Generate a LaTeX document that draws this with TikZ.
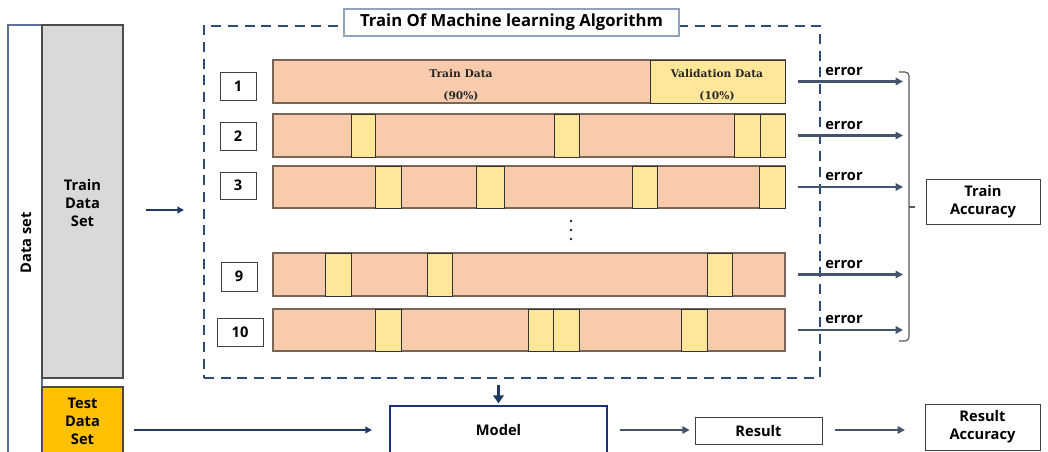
\documentclass[tikz,border=0pt]{standalone}
\usepackage{fontspec}
\setsansfont{Open Sans}
\newfontfamily\barfont{DejaVu Serif}
\usetikzlibrary{arrows.meta,fit}

\definecolor{peach}{HTML}{F8CBAD}
\definecolor{lemon}{HTML}{FFE699}
\definecolor{gold}{HTML}{FFC000}
\definecolor{slate}{HTML}{44546A}
\definecolor{navy}{HTML}{1F3864}
\definecolor{dashblue}{HTML}{2F4A78}
\definecolor{barline}{HTML}{7A6656}
\definecolor{panel}{HTML}{D9D9D9}
\definecolor{titleline}{HTML}{8FA3BF}
\definecolor{setline}{HTML}{5B7099}

\tikzset{
  lbl/.style={font=\sffamily\bfseries\fontsize{11}{13.5}\selectfont, align=center, text=black},
  area/.style={inner sep=0pt, outer sep=0pt, fit={#1}},
  barbox/.style={draw=barline, line width=0.8pt, fill=peach},
  seg/.style={draw=black!80, line width=0.7pt, fill=lemon},
  numbox/.style={draw=black!75, line width=0.7pt, fill=white},
  plainbox/.style={draw=black!75, line width=0.7pt, fill=white},
  inside/.style={label={[lbl]center:#1}},
  errarrow/.style={draw=slate, line width=1.7pt, -{Triangle[length=5.5pt,width=5.5pt]}},
  navyarrow/.style={draw=navy, line width=1.3pt, -{Triangle[length=5pt,width=5pt]}},
  errlbl/.style={lbl, above=0.5pt, midway},
  bartext/.style={font=\barfont\bfseries\fontsize{8}{9}\selectfont, text=black!85},
}

% one fold of the cross-validation: orange bar with yellow validation slices
\newcommand\foldbar[4]{%
  \node[barbox, area={(273,#2)(785,#3)}] (#1) {};
  \foreach \a/\b in {#4} { \draw[seg] (\a,#2) rectangle (\b,#3); }
}

\begin{document}
\begin{tikzpicture}[x=0.75pt, y=-0.75pt]
\useasboundingbox (0,0) rectangle (1048,452);

% data set column
\node[draw=setline, line width=0.8pt, area={(8,25)(42,470)}] (dataset) {};
\node[lbl, rotate=90] (datasettxt) at (26,243) {Data set};
\node[draw=black!70, line width=0.8pt, fill=panel, area={(42,25)(123,378)}] (trainbox) {};
\node[lbl] (traintxt) at (82.5,203) {Train\\Data\\Set};
\node[draw=black!70, line width=0.8pt, fill=gold, area={(42,387)(123,470)}] (testbox) {};
\node[lbl] (testtxt) at (82.5,421) {Test\\Data\\Set};

% training frame
\node[draw=dashblue, line width=1.6pt, dash pattern=on 7.5pt off 5pt, area={(204,26)(820,378)}] (cv) {};
\node[draw=titleline, line width=0.8pt, fill=white, area={(344,9)(679,36)},
      label={[lbl, font=\sffamily\bfseries\fontsize{12.5}{15}\selectfont]center:Train Of Machine learning Algorithm}] (title) {};

% folds
\foldbar{r1}{60}{103}{650/785}
\node[bartext] (td1) at (461,74) {Train Data};
\node[bartext] (td2) at (461,96) {(90\%)};
\node[bartext] (vd1) at (717,74) {Validation Data};
\node[bartext] (vd2) at (717,96) {(10\%)};
\foldbar{r2}{114}{157}{351/375, 554/579, 734/760, 760/785}
\foldbar{r3}{166}{208}{375/401, 476/504, 632/657, 759/785}
\foldbar{r9}{253}{296}{325/351, 427/452, 707/732}
\foldbar{r10}{309}{351}{375/401, 528/553, 553/579, 681/707}

% fold numbers
\node[numbox, area={(220,72)(256,100)}, inside=1] (n1) {};
\node[numbox, area={(220,122)(256,150)}, inside=2] (n2) {};
\node[numbox, area={(220,172)(256,199)}, inside=3] (n3) {};
\node[numbox, area={(221,262)(257,291)}, inside=9] (n9) {};
\node[numbox, area={(217,318)(263,346)}, inside=10] (n10) {};

% vertical ellipsis
\foreach \y in {221,230,239} \fill[black!85] (571,\y) circle (1.1pt);

% per-fold errors
\coordinate (bx) at (903,0);
\foreach \r in {r1,r2,r3,r9,r10}
  \draw[errarrow, shorten <=10pt] (\r.east) -- (\r.east -| bx) node[errlbl] {error};

% bracket gathering the errors
\draw[draw=black!65, line width=0.9pt, rounded corners=3pt]
  (899,72) -- (909,72) -- (909,341) -- (899,341);
\draw[draw=black!65, line width=0.9pt] (909,207) -- (915,207);
\node[plainbox, area={(926,179)(1040,224)}, inside={Train\\Accuracy}] (trainacc) {};

% data into the training frame
\coordinate (tin) at (146,210);
\coordinate (tout) at (184,210);
\draw[navyarrow] (tin) -- (tout);

% evaluation chain
\node[draw=navy!85!blue, line width=1.4pt, fill=white, area={(390,406)(607,470)}] (model) {};
\node[lbl] (modeltxt) at (498.5,430) {Model};
\draw[draw=navy, line width=2.2pt, -{Triangle[length=6pt,width=8pt]}, shorten <=5pt, shorten >=2pt]
  (model.north |- cv.south) -- (model.north);
\draw[navyarrow, shorten <=8pt, shorten >=13.5pt] (testbox.east |- modeltxt) -- (modeltxt -| model.west);
\node[plainbox, area={(695,417)(822,444)}, inside=Result] (result) {};
\node[plainbox, area={(925,404)(1040,450)}, inside={Result\\Accuracy}] (resacc) {};
\draw[errarrow, shorten <=9.5pt, shorten >=4pt] (modeltxt -| model.east) -- (modeltxt -| result.west);
\draw[errarrow, shorten <=9.5pt, shorten >=15pt] (modeltxt -| result.east) -- (modeltxt -| resacc.west);
\end{tikzpicture}
\end{document}
